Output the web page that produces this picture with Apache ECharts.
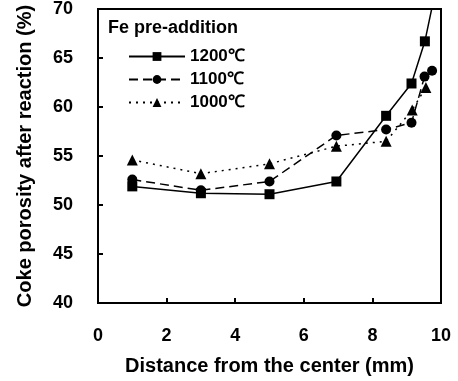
<!DOCTYPE html>
<html>
<head>
<meta charset="utf-8">
<script src="https://cdn.jsdelivr.net/npm/echarts@6/dist/echarts.min.js"></script>
<style>
  html, body { margin: 0; padding: 0; background: #fff; }
  #chart { width: 458px; height: 381px; }
</style>
</head>
<body>
<div id="chart"></div>
<script>
// distance from the center (mm) and porosity (%) for each pre-addition temperature
const dist1200 = [1.0, 3.0, 5.0, 6.95, 8.4, 9.14, 9.53, 9.8];
const poro1200 = [51.9, 51.2, 51.1, 52.4, 59.1, 62.4, 66.7, 71.2];
const dist1100 = [1.0, 3.0, 5.0, 6.95, 8.4, 9.14, 9.52, 9.74];
const poro1100 = [52.6, 51.5, 52.4, 57.1, 57.7, 58.4, 63.1, 63.7];
const dist1000 = [1.0, 3.0, 5.0, 6.95, 8.4, 9.16, 9.56];
const poro1000 = [54.6, 53.2, 54.2, 56.0, 56.5, 59.7, 62.0];
const seriesNames = ['1200℃', '1100℃', '1000℃'];

const font = '"Liberation Sans", Arial, sans-serif';

function pairs(xs, ys) {
  return xs.map((x, i) => [x, ys[i]]);
}

const chart = echarts.init(document.getElementById('chart'));
chart.setOption({
  animation: false,
  backgroundColor: '#fff',
  title: {
    text: 'Fe pre-addition',
    left: 103,
    top: 14,
    textStyle: { fontFamily: font, fontWeight: 'bold', fontSize: 18, color: '#000' }
  },
  legend: {
    orient: 'vertical',
    left: 123,
    top: 43,
    itemWidth: 56,
    itemHeight: 11,
    itemGap: 6,
    data: seriesNames,
    textStyle: { fontFamily: font, fontWeight: 'bold', fontSize: 17, color: '#000' }
  },
  grid: {
    left: 98,
    right: 17,
    top: 8,
    bottom: 77,
    show: true,
    borderColor: '#000',
    borderWidth: 2
  },
  xAxis: {
    type: 'value',
    min: 0,
    max: 10,
    interval: 2,
    name: 'Distance from the center (mm)',
    nameLocation: 'middle',
    nameGap: 53,
    nameTextStyle: { fontFamily: font, fontWeight: 'bold', fontSize: 20, color: '#000' },
    axisLine: { lineStyle: { color: '#000', width: 2 } },
    axisTick: { inside: true, length: 5, lineStyle: { color: '#000', width: 2 } },
    axisLabel: { margin: 24, fontFamily: font, fontWeight: 'bold', fontSize: 18, color: '#000' },
    splitLine: { show: false }
  },
  yAxis: {
    type: 'value',
    min: 40,
    max: 70,
    interval: 5,
    name: 'Coke porosity after reaction (%)',
    nameLocation: 'middle',
    nameGap: 63,
    nameTextStyle: { fontFamily: font, fontWeight: 'bold', fontSize: 20, color: '#000' },
    axisLine: { lineStyle: { color: '#000', width: 2 } },
    axisTick: { inside: true, length: 5, lineStyle: { color: '#000', width: 2 } },
    axisLabel: { margin: 25, fontFamily: font, fontWeight: 'bold', fontSize: 18, color: '#000' },
    splitLine: { show: false }
  },
  series: [
    {
      name: seriesNames[0],
      type: 'line',
      data: pairs(dist1200, poro1200),
      symbol: 'rect',
      symbolSize: 10,
      clip: true,
      itemStyle: { color: '#000' },
      lineStyle: { color: '#000', width: 1.5, type: 'solid' }
    },
    {
      name: seriesNames[1],
      type: 'line',
      data: pairs(dist1100, poro1100),
      symbol: 'circle',
      symbolSize: 10,
      clip: true,
      itemStyle: { color: '#000' },
      lineStyle: { color: '#000', width: 1.5, type: [9, 5] }
    },
    {
      name: seriesNames[2],
      type: 'line',
      data: pairs(dist1000, poro1000),
      symbol: 'triangle',
      symbolSize: 11,
      clip: true,
      itemStyle: { color: '#000' },
      lineStyle: { color: '#000', width: 1.5, type: [2, 5] }
    }
  ]
});
</script>
</body>
</html>
